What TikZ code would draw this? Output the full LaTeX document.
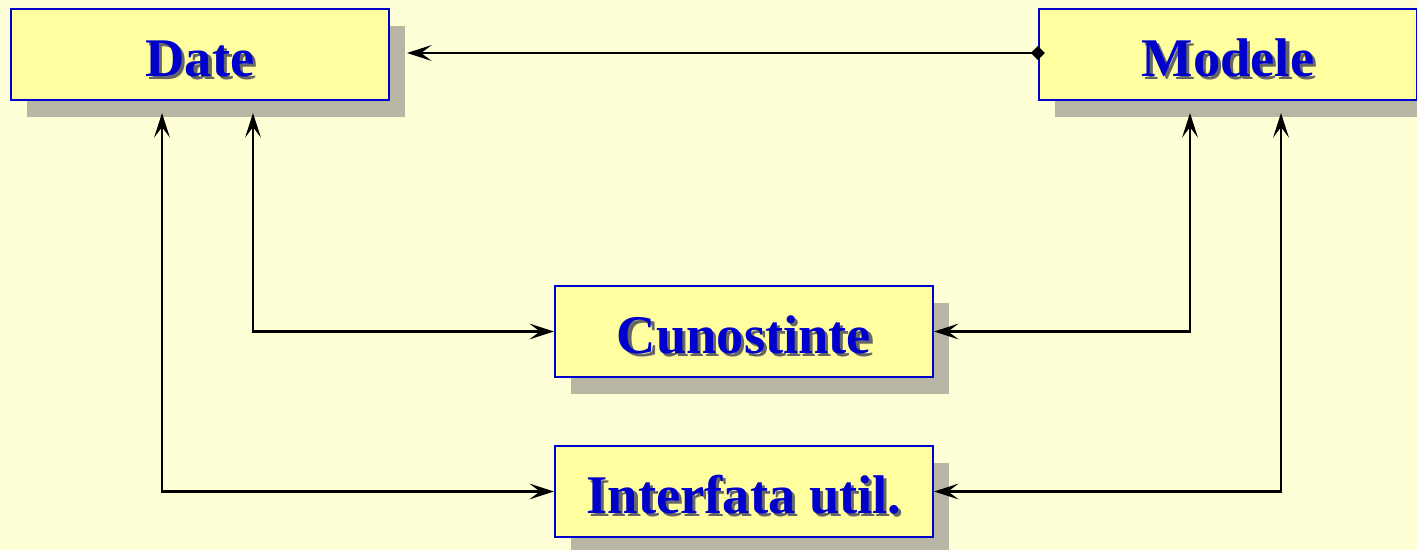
\documentclass[tikz,border=0pt]{standalone}
\usepackage{fontspec}
\setmainfont{Liberation Serif}
\usepackage{xcolor}
\usetikzlibrary{positioning,shadows,arrows.meta,calc}
\definecolor{bgyellow}{RGB}{255,255,215}
\definecolor{boxyellow}{RGB}{255,255,160}
\definecolor{boxblue}{RGB}{0,0,204}
\definecolor{shadowgray}{RGB}{184,182,164}
\newcommand{\shtxt}[1]{\makebox[0pt][l]{\hspace{1.8pt}\raisebox{-1.8pt}{\color{black!60}#1}}#1}

\begin{document}
\begin{tikzpicture}[x=0.02cm,y=-0.02cm,
    box/.style={draw=boxblue,line width=1.2pt,fill=boxyellow,minimum width=7.56cm,minimum height=1.82cm,inner sep=0pt,
      text height=0.88cm,text depth=0pt,font=\fontsize{31}{31}\selectfont\bfseries,text=boxblue,
      drop shadow={shadow xshift=0.32cm,shadow yshift=-0.34cm,fill=shadowgray,opacity=1}},
    link/.style={line width=1.5pt,{Stealth[length=14pt,width=9pt,inset=6pt]}-{Stealth[length=14pt,width=9pt,inset=6pt]}}]
  \useasboundingbox (0,0) rectangle (1417,550);
  \fill[bgyellow] (0,0) rectangle (1417,550);
  \node[box](date) at (200,54.5){\shtxt{Date}};
  \node[box](modele) at (1228,54.5){\shtxt{Modele}};
  \node[box](cun) at (744,331.5){\shtxt{Cunostinte}};
  \node[box](ui) at (744,491.5){\shtxt{Interfata util.}};
  \draw[line width=1.5pt,{Diamond[length=8pt,width=8pt]}-{Stealth[length=14pt,width=9pt,inset=6pt]}] ($(modele.west)+(7,-1.5)$) -- ($(date.east)+(17,-1.5)$);
  \draw[link] (cun.west) -| ($(date.south)+(53,12)$);
  \draw[link] (ui.west) -| ($(date.south)+(-38,12)$);
  \draw[link] (cun.east) -| ($(modele.south)+(-38,12)$);
  \draw[link] (ui.east) -| ($(modele.south)+(53,12)$);
\end{tikzpicture}
\end{document}
